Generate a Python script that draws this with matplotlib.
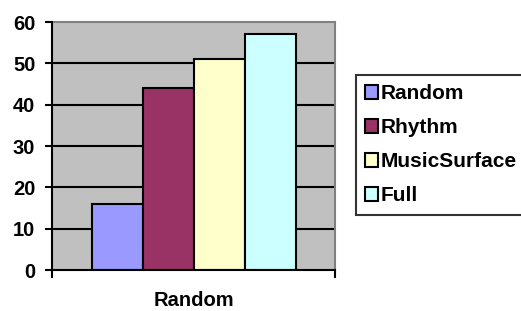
import matplotlib
matplotlib.use('Agg')
import matplotlib.pyplot as plt

plt.rcParams['font.family'] = ['Liberation Sans', 'DejaVu Sans']
plt.rcParams['font.weight'] = 'bold'

category = 'Random'
series = ['Random', 'Rhythm', 'MusicSurface', 'Full']
values = [16, 44, 51, 57]
colors = ['#9999FF', '#993366', '#FFFFCC', '#CCFFFF']
yticks = [0, 10, 20, 30, 40, 50, 60]

fig = plt.figure(figsize=(5.21, 3.11), dpi=100)
ax = fig.add_axes([52 / 521, 41 / 311, 283 / 521, 248 / 311])
ax.set_facecolor('#C0C0C0')

half = 283 / 51 / 2
offsets = [-1.5, -0.5, 0.5, 1.5]
for off, v, c, name in zip(offsets, values, colors, series):
    ax.bar(off, v, width=1.0, color=c, edgecolor='black', linewidth=1.5,
           label=name, zorder=3)

ax.set_xlim(-half, half)
ax.set_ylim(0, 60)
ax.set_yticks(yticks)
ax.tick_params(axis='y', length=5, width=1.5, pad=7, labelsize=14.5)
for y in yticks[1:-1]:
    ax.axhline(y, color='black', linewidth=1.5, zorder=1)

ax.set_xticks([-half, half])
ax.set_xticklabels(['', ''])
ax.tick_params(axis='x', which='major', length=6, width=1.5, direction='out')
ax.set_xticks([0], minor=True)
ax.set_xticklabels([category], minor=True)
ax.tick_params(axis='x', which='minor', length=0, pad=15, labelsize=14.5)

ax.spines['left'].set_linewidth(1.5)
ax.spines['bottom'].set_linewidth(1.5)
ax.spines['top'].set_color('#808080')
ax.spines['right'].set_color('#808080')
ax.spines['top'].set_linewidth(1.5)
ax.spines['right'].set_linewidth(1.5)
ax.spines['left'].set_zorder(4)
ax.spines['bottom'].set_zorder(4)

leg = fig.legend(loc='upper left', bbox_to_anchor=(356 / 521, 1 - 75 / 311),
                 frameon=True, fancybox=False, edgecolor='black',
                 prop={'size': 15, 'weight': 'bold'},
                 handlelength=0.6, handleheight=0.6, handletextpad=0.15,
                 labelspacing=0.72, borderpad=0.45, borderaxespad=0)
leg.get_frame().set_linewidth(1.5)
for h in leg.legend_handles:
    h.set_linewidth(1.5)

fig.savefig('out.png', dpi=100)
